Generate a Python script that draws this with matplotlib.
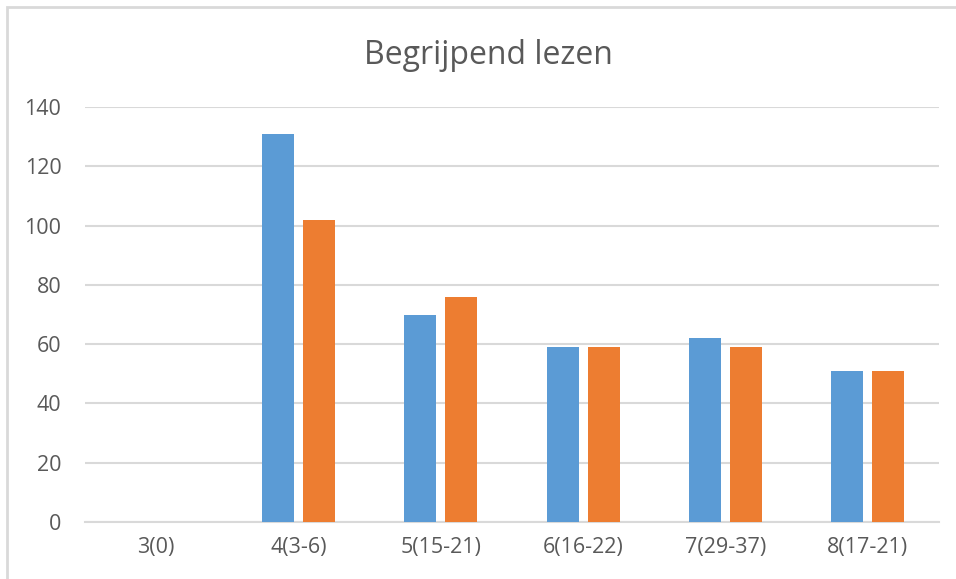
# Clustered bar chart "Begrijpend lezen" in Excel style
import numpy as np
import matplotlib
matplotlib.use("Agg")
import matplotlib.pyplot as plt
from matplotlib.patches import Rectangle

# Data
categories = ["3(0)", "4(3-6)", "5(15-21)", "6(16-22)", "7(29-37)", "8(17-21)"]
serie1 = [0, 131, 70, 59, 62, 51]
serie2 = [0, 102, 76, 59, 59, 51]
yTicks = [0, 20, 40, 60, 80, 100, 120, 140]

# Style
plt.rcParams['font.family'] = ['Open Sans', 'DejaVu Sans']
textColor = "#595959"
gridColor = "#d9d9d9"
colorList = ["#5B9BD5", "#ED7D31"]
barWidth = 0.225
offset = 0.145

fig = plt.figure(figsize=(9.56, 5.79), dpi=100, facecolor='w')
ax = fig.add_axes([85/956., 1-522/579., (939-85)/956., (522-107)/579.])

x = np.arange(len(categories))
ax.bar(x - offset, serie1, barWidth, color=colorList[0], zorder=3)
ax.bar(x + offset, serie2, barWidth, color=colorList[1], zorder=3)

# Axes
ax.set_xlim(-0.5, len(categories) - 0.5)
ax.set_ylim(0, 140)
ax.set_yticks(yTicks)
ax.set_xticks(x)
ax.set_xticklabels(categories)
ax.yaxis.grid(True, color=gridColor, linewidth=1.5, zorder=0)
for s in ["top", "right", "left"]:
    ax.spines[s].set_visible(False)
ax.spines["bottom"].set_color(gridColor)
ax.spines["bottom"].set_linewidth(1.5)
ax.tick_params(axis='both', length=0, labelsize=15.5, labelcolor=textColor)
ax.tick_params(axis='y', pad=17)
ax.tick_params(axis='x', pad=11)

# Title
fig.text(488/956., 1-55/579., "Begrijpend lezen", ha='center', va='center',
         fontsize=23, color=textColor)

# Chart border (left and top visible)
fig.patches.append(Rectangle((7/956., -0.1), 1.2, 1 - 7/579. + 0.1, transform=fig.transFigure,
                             fill=False, edgecolor=gridColor, linewidth=2))

fig.savefig("out.png", dpi=100)
